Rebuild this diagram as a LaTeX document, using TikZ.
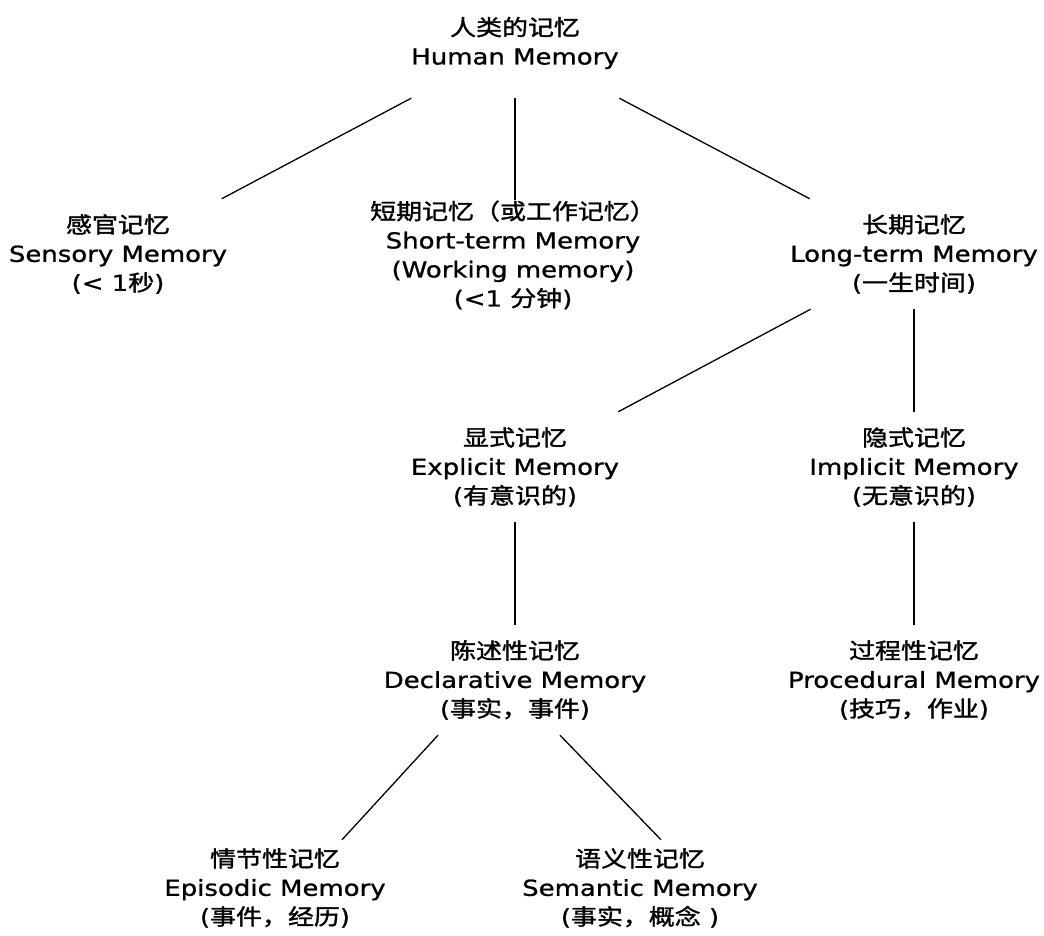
\documentclass[tikz,border=0pt]{standalone}
\usepackage{fontspec}
\setmainfont[FakeStretch=1.18, FakeBold=1]{DejaVu Sans}
\newfontfamily\cjk[FakeStretch=1.18, FakeBold=1.5]{Noto Sans CJK SC}

\begin{document}
\begin{tikzpicture}[x=1pt, y=-1pt,
    memnode/.style={align=center, inner sep=0pt, minimum width=270pt, minimum height=110pt,
        font=\fontsize{22}{29}\selectfont},
    link/.style={line width=1.3pt}]

    \useasboundingbox (0,0) rectangle (1044,936);

    % Top level
    \node[memnode] (human) at (515,43) {{\cjk 人类的记忆}\\Human Memory};

    % Second level
    \node[memnode] (sensory) at (118,254) {{\cjk 感官记忆}\\Sensory Memory\\(< 1{\cjk 秒})};
    \node[memnode] (short) at (513,255) {{\cjk 短期记忆（或工作记忆）}\\Short-term Memory\\(Working memory)\\(<1 {\cjk 分钟})};
    \node[memnode] (long) at (914,254) {{\cjk 长期记忆}\\Long-term Memory\\({\cjk 一生时间})};

    % Long-term memory split
    \node[memnode] (explicit) at (515,467) {{\cjk 显式记忆}\\Explicit Memory\\({\cjk 有意识的})};
    \node[memnode] (implicit) at (914,467) {{\cjk 隐式记忆}\\Implicit Memory\\({\cjk 无意识的})};

    \node[memnode] (declarative) at (515,680) {{\cjk 陈述性记忆}\\Declarative Memory\\({\cjk 事实，事件})};
    \node[memnode] (procedural) at (914,680) {{\cjk 过程性记忆}\\Procedural Memory\\({\cjk 技巧，作业})};

    % Bottom level
    \node[memnode] (episodic) at (275,888) {{\cjk 情节性记忆}\\Episodic Memory\\({\cjk 事件，经历})};
    \node[memnode] (semantic) at (640,888) {{\cjk 语义性记忆}\\Semantic Memory\\({\cjk 事实，概念} )};

    % Links
    \draw[link] (human) -- (sensory);
    \draw[link] (human.south) -- (human.south |- short.north);
    \draw[link] (human) -- (long);
    \draw[link] (long) -- (explicit);
    \draw[link] (long) -- (implicit);
    \draw[link] (explicit) -- (declarative);
    \draw[link] (implicit) -- (procedural);
    \draw[link] ([xshift=-77pt]declarative.south) -- ([xshift=67pt,yshift=-7pt]episodic.north);
    \draw[link] ([xshift=45pt]declarative.south) -- ([xshift=21pt,yshift=-7pt]semantic.north);

\end{tikzpicture}
\end{document}
